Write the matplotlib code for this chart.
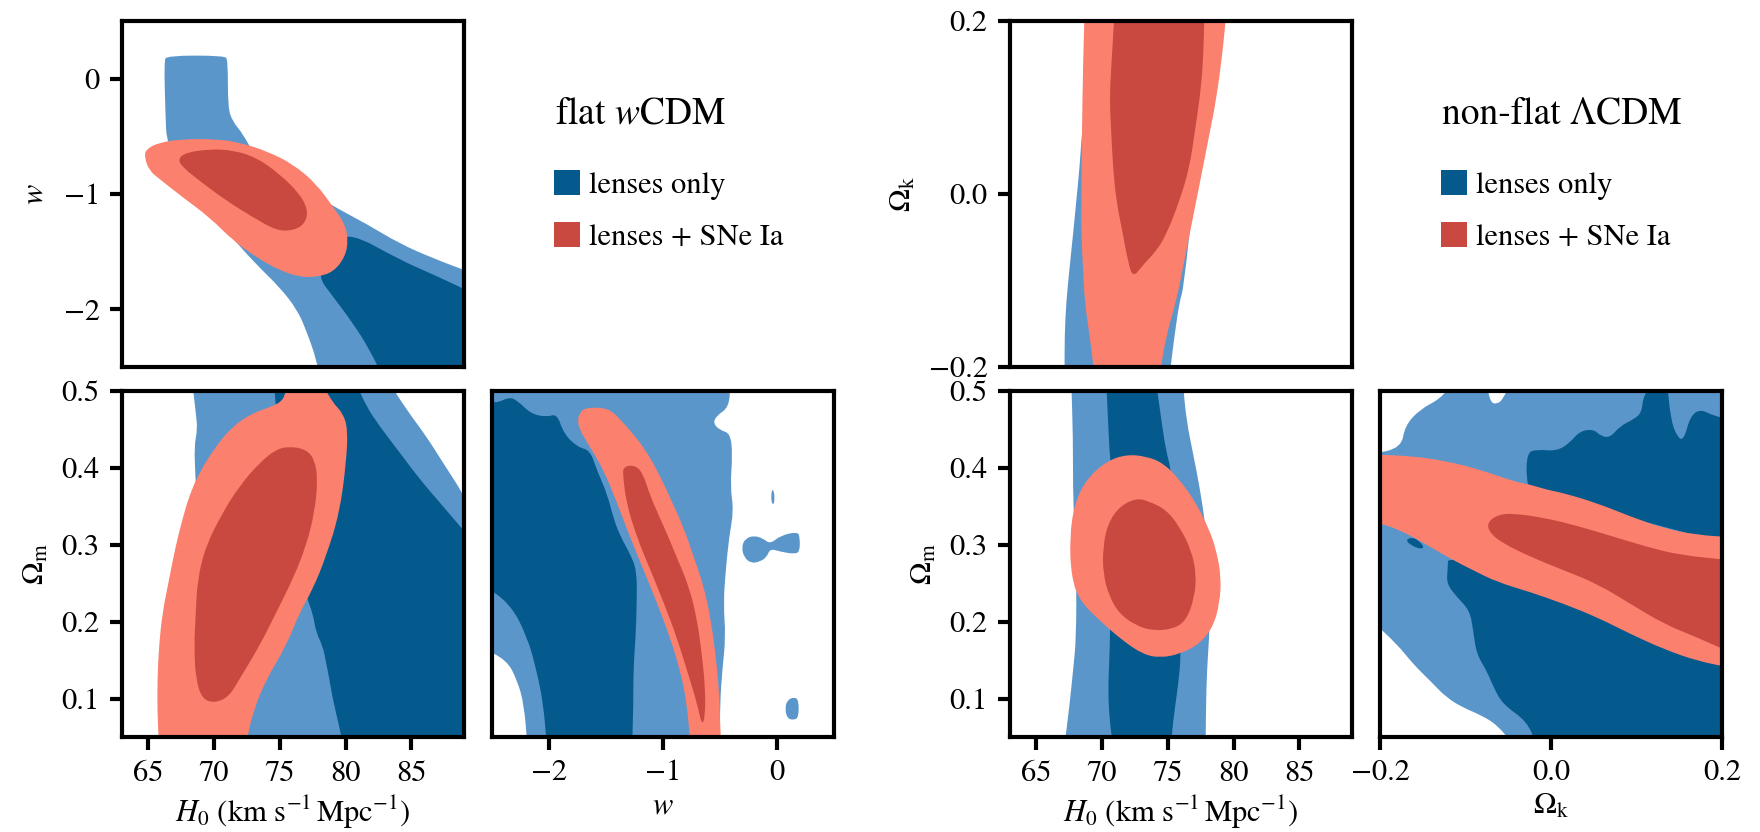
import numpy as np
import matplotlib
matplotlib.use('Agg')
import matplotlib.pyplot as plt
from matplotlib.path import Path
from matplotlib.patches import PathPatch, Rectangle

plt.rcParams['font.family'] = ['STIXGeneral', 'DejaVu Serif']
plt.rcParams['mathtext.fontset'] = 'stix'

LIGHT_BLUE = '#5b96cb'
DARK_BLUE = '#045a8d'
SALMON = '#fb806e'
DARK_RED = '#c9483f'

# axis ranges and ticks
h0_lim = (63, 89)
w_lim = (-2.5, 0.5)
om_lim = (0.05, 0.5)
ok_lim = (-0.2, 0.2)
h0_ticks = [65, 70, 75, 80, 85]
w_ticks = [-2, -1, 0]
om_ticks = [0.1, 0.2, 0.3, 0.4, 0.5]
ok_ticks = [-0.2, 0.0, 0.2]
ok_ticklabels = ['\u22120.2', '0.0', '0.2']

# ---- flat wCDM : contour outlines (68% / 95%) ----
# H0 vs w
wcdm_hw_lens95 = [(66.2, 0.15), (66.4, 0.2), (70.8, 0.2), (71.05, 0.16), (71.05, -0.25),
                  (71.4, -0.37), (72.2, -0.48), (73.0, -0.65), (76.0, -0.9), (79.6, -1.14),
                  (81.6, -1.26), (84.1, -1.43), (86.7, -1.56), (89.5, -1.68), (89.5, -2.6),
                  (78.0, -2.6), (77.8, -2.44), (77.0, -2.18), (76.3, -2.0), (75.0, -1.81),
                  (73.2, -1.61), (71.3, -1.37), (68.0, -0.9), (66.4, -0.57), (66.3, -0.3)]
wcdm_hw_lens68 = [(79.0, -1.45), (80.3, -1.33), (84.1, -1.57), (86.7, -1.7), (89.5, -1.85),
                  (89.5, -2.6), (82.87, -2.6), (81.85, -2.354), (80.58, -2.124),
                  (79.06, -1.893), (77.8, -1.70)]
wcdm_hw_sn95 = [(64.70, -0.68), (64.83, -0.611), (65.85, -0.553), (67.62, -0.524),
                (70.16, -0.524), (71.94, -0.553), (73.98, -0.627), (76.01, -0.741),
                (77.79, -0.914), (79.06, -1.115), (79.95, -1.259), (80.2, -1.403),
                (79.95, -1.548), (79.06, -1.677), (77.79, -1.72), (76.52, -1.72),
                (74.99, -1.663), (73.21, -1.548), (71.43, -1.403), (69.66, -1.202),
                (67.62, -1.029), (65.85, -0.87), (65.08, -0.798)]
wcdm_hw_sn68 = [(67.24, -0.697), (67.88, -0.64), (69.66, -0.611), (71.43, -0.62),
                (73.21, -0.683), (74.99, -0.827), (76.52, -1.0), (77.15, -1.144),
                (76.9, -1.259), (76.01, -1.317), (74.74, -1.317), (72.96, -1.202),
                (70.93, -1.058), (68.89, -0.885), (67.62, -0.769)]

# H0 vs Omega_m
wcdm_hm_lens95 = [(68.35, 0.51), (83.35, 0.51), (84.62, 0.476), (86.14, 0.441),
                  (87.41, 0.4065), (88.89, 0.3675), (89.5, 0.345), (89.5, 0.04),
                  (72.42, 0.04), (69.37, 0.04), (68.86, 0.255), (68.6, 0.385),
                  (68.48, 0.428), (68.74, 0.45), (68.61, 0.4715)]
wcdm_hm_lens68 = [(74.58, 0.51), (80.81, 0.51), (81.57, 0.48), (82.59, 0.454),
                  (84.11, 0.42), (85.64, 0.385), (87.41, 0.35), (88.89, 0.32),
                  (89.5, 0.31), (89.5, 0.04), (79.79, 0.04), (79.54, 0.062),
                  (79.03, 0.0987), (78.77, 0.1247), (78.52, 0.1464), (78.27, 0.168),
                  (77.76, 0.1855), (77.5, 0.2114), (77.0, 0.233), (75.47, 0.3415),
                  (74.71, 0.4715)]
wcdm_hm_sn95 = [(75.5, 0.51), (75.34, 0.489), (74.45, 0.48), (72.93, 0.4715),
                (71.4, 0.454), (70.13, 0.428), (68.86, 0.3935), (68.1, 0.363),
                (67.59, 0.333), (67.08, 0.2985), (66.58, 0.255), (66.07, 0.2114),
                (65.81, 0.168), (65.69, 0.1247), (65.69, 0.0814), (65.81, 0.04),
                (72.42, 0.04), (72.93, 0.0814), (73.95, 0.1247), (75.47, 0.168),
                (76.49, 0.2114), (77.5, 0.242), (78.52, 0.285), (79.54, 0.3415),
                (80.04, 0.4065), (80.17, 0.45), (79.79, 0.4715), (79.03, 0.4845),
                (78.2, 0.51)]
wcdm_hm_sn68 = [(75.72, 0.428), (77.0, 0.424), (77.63, 0.411), (77.89, 0.385),
                (77.63, 0.3415), (77.0, 0.2985), (75.98, 0.255), (74.71, 0.2114),
                (73.44, 0.168), (71.91, 0.1247), (71.15, 0.103), (70.13, 0.0944),
                (69.12, 0.0987), (68.61, 0.1247), (68.48, 0.168), (68.61, 0.2114),
                (68.74, 0.255), (69.37, 0.2985), (70.64, 0.3415), (71.91, 0.376),
                (73.44, 0.4065), (74.71, 0.424)]

# w vs Omega_m
wcdm_wm_lens95 = [(-2.6, 0.51), (-0.41, 0.51), (-0.42, 0.479), (-0.53, 0.468),
                  (-0.56, 0.458), (-0.5, 0.449), (-0.41, 0.445), (-0.39, 0.4185),
                  (-0.41, 0.375), (-0.38, 0.345), (-0.42, 0.31), (-0.45, 0.267),
                  (-0.47, 0.2235), (-0.45, 0.18), (-0.48, 0.137), (-0.5, 0.0935),
                  (-0.5, 0.04), (-2.19, 0.04), (-2.22, 0.0935), (-2.28, 0.124),
                  (-2.37, 0.15), (-2.6, 0.167)]
wcdm_wm_lens95_isle1 = [(-0.31, 0.297), (-0.28, 0.308), (-0.2, 0.312), (-0.12, 0.308),
                        (-0.06, 0.301), (0.03, 0.312), (0.18, 0.317), (0.2, 0.31),
                        (0.2, 0.291), (0.15, 0.288), (0.03, 0.291), (-0.06, 0.295),
                        (-0.09, 0.284), (-0.15, 0.278), (-0.23, 0.276), (-0.29, 0.284)]
wcdm_wm_lens95_isle2 = [(0.09, 0.098), (0.15, 0.102), (0.19, 0.098), (0.19, 0.076),
                        (0.15, 0.072), (0.09, 0.074), (0.07, 0.087)]
wcdm_wm_lens95_isle3 = [(-0.05, 0.37), (-0.03, 0.372), (-0.02, 0.36), (-0.03, 0.352),
                        (-0.05, 0.355)]
wcdm_wm_lens68 = [(-2.6, 0.49), (-2.47, 0.4835), (-2.35, 0.492), (-2.28, 0.488),
                  (-2.16, 0.4705), (-2.02, 0.466), (-1.93, 0.4705), (-1.87, 0.4445),
                  (-1.75, 0.427), (-1.64, 0.423), (-1.58, 0.397), (-1.49, 0.3665),
                  (-1.43, 0.332), (-1.37, 0.31), (-1.29, 0.2885), (-1.23, 0.267),
                  (-1.23, 0.2235), (-1.24, 0.18), (-1.26, 0.137), (-1.26, 0.0935),
                  (-1.27, 0.04), (-2.02, 0.04), (-2.05, 0.0935), (-2.11, 0.137),
                  (-2.19, 0.18), (-2.34, 0.2235), (-2.6, 0.25)]
wcdm_wm_sn95 = [(-1.73, 0.4705), (-1.7, 0.477), (-1.58, 0.479), (-1.46, 0.4757),
                (-1.37, 0.462), (-1.29, 0.449), (-1.17, 0.427), (-1.05, 0.397),
                (-0.94, 0.362), (-0.82, 0.323), (-0.73, 0.284), (-0.64, 0.245),
                (-0.58, 0.202), (-0.54, 0.1585), (-0.51, 0.115), (-0.5, 0.072),
                (-0.49, 0.04), (-0.76, 0.04), (-0.79, 0.0935), (-0.85, 0.137),
                (-0.94, 0.18), (-1.05, 0.2235), (-1.17, 0.267), (-1.29, 0.31),
                (-1.4, 0.3535), (-1.52, 0.397), (-1.64, 0.427), (-1.73, 0.449),
                (-1.75, 0.462)]
wcdm_wm_sn68 = [(-1.35, 0.401), (-1.26, 0.404), (-1.18, 0.395), (-1.11, 0.362),
                (-0.99, 0.323), (-0.88, 0.284), (-0.77, 0.245), (-0.7, 0.202),
                (-0.66, 0.1585), (-0.63, 0.115), (-0.63, 0.076), (-0.66, 0.065),
                (-0.7, 0.0935), (-0.79, 0.137), (-0.88, 0.18), (-0.99, 0.2235),
                (-1.11, 0.267), (-1.23, 0.31), (-1.32, 0.3535), (-1.35, 0.388)]

# ---- non-flat LCDM ----
# H0 vs Omega_k
lcdm_hk_lens95 = [(69.31, 0.21), (68.8, 0.109), (68.5, 0.078), (68.29, 0.031),
                  (68.04, -0.008), (67.79, -0.047), (67.53, -0.085), (67.28, -0.124),
                  (67.15, -0.163), (67.15, -0.21), (75.13, -0.21), (75.51, -0.163),
                  (75.89, -0.124), (76.2, -0.109), (76.9, -0.008), (77.92, 0.109),
                  (78.43, 0.21)]
lcdm_hk_sn95 = [(68.67, 0.21), (68.55, 0.148), (68.47, 0.07), (68.42, -0.008),
                (68.42, -0.047), (68.55, -0.085), (68.67, -0.124), (69.05, -0.163),
                (69.43, -0.21), (74.37, -0.21), (74.88, -0.163), (75.64, -0.124),
                (76.15, -0.085), (76.65, -0.047), (77.16, -0.008), (77.67, 0.031),
                (78.17, 0.07), (78.68, 0.109), (79.19, 0.167), (79.44, 0.21)]
lcdm_hk_sn68 = [(70.95, 0.21), (70.7, 0.148), (70.57, 0.109), (70.7, 0.07),
                (70.83, 0.031), (71.08, -0.008), (71.59, -0.047), (71.97, -0.078),
                (72.35, -0.097), (73.1, -0.082), (74.12, -0.066), (74.88, -0.047),
                (75.89, -0.008), (76.65, 0.031), (77.03, 0.07), (77.41, 0.109),
                (77.67, 0.148), (77.79, 0.21)]

# H0 vs Omega_m
lcdm_hm_lens95 = [(67.66, 0.51), (76.15, 0.51), (76.4, 0.463), (76.9, 0.42),
                  (77.41, 0.376), (77.92, 0.319), (78.17, 0.223), (78.17, 0.188),
                  (78.05, 0.1577), (77.92, 0.114), (77.87, 0.04), (67.15, 0.04),
                  (67.53, 0.092), (67.79, 0.1358), (68.04, 0.1795), (68.04, 0.267),
                  (67.79, 0.354), (67.79, 0.4415)]
lcdm_hm_lens68 = [(70.32, 0.51), (74.12, 0.51), (74.5, 0.463), (74.88, 0.42),
                  (75.26, 0.398), (75.89, 0.267), (76.02, 0.1577), (75.76, 0.114),
                  (75.39, 0.0703), (75.26, 0.04), (70.83, 0.04), (70.57, 0.0703),
                  (70.45, 0.114), (70.57, 0.153), (70.7, 0.267), (70.7, 0.398),
                  (70.57, 0.42), (70.45, 0.463)]
lcdm_hm_sn95 = [(71.84, 0.4175), (73.36, 0.415), (74.63, 0.4065), (75.89, 0.385),
                (77.16, 0.354), (78.17, 0.319), (78.68, 0.293), (79.06, 0.258),
                (78.93, 0.223), (78.43, 0.193), (77.41, 0.171), (75.89, 0.1577),
                (74.37, 0.153), (73.1, 0.1577), (71.59, 0.175), (69.81, 0.2014),
                (68.29, 0.2275), (67.66, 0.258), (67.53, 0.31), (67.91, 0.354),
                (68.8, 0.385), (70.32, 0.4085)]
lcdm_hm_sn68 = [(72.6, 0.3607), (73.61, 0.3563), (74.88, 0.3454), (75.89, 0.3236),
                (76.78, 0.293), (77.16, 0.2624), (77.03, 0.2319), (76.4, 0.2014),
                (75.39, 0.1904), (73.87, 0.1882), (72.6, 0.1948), (71.33, 0.21),
                (70.57, 0.2319), (70.07, 0.2624), (70.07, 0.2974), (70.45, 0.328),
                (71.33, 0.3498)]

# Omega_k vs Omega_m
lcdm_km_lens95 = [(-0.21, 0.4175), (-0.175, 0.4262), (-0.171, 0.4546), (-0.153, 0.4764),
                  (-0.13, 0.4895), (-0.115, 0.51), (-0.075, 0.51), (-0.071, 0.485),
                  (-0.063, 0.483), (-0.056, 0.4895), (-0.048, 0.51), (0.21, 0.51),
                  (0.21, 0.04), (-0.044, 0.04), (-0.063, 0.0659), (-0.083, 0.079),
                  (-0.102, 0.0878), (-0.122, 0.1009), (-0.141, 0.1227), (-0.161, 0.1445),
                  (-0.18, 0.1707), (-0.21, 0.2014)]
lcdm_km_lens68_top = [(-0.028, 0.4197), (-0.017, 0.424), (0.007, 0.4218), (0.022, 0.4328),
                      (0.034, 0.448), (0.05, 0.4502), (0.058, 0.4415), (0.069, 0.4393),
                      (0.081, 0.4546), (0.097, 0.4633), (0.106, 0.472), (0.108, 0.494),
                      (0.12, 0.51), (0.136, 0.51), (0.14, 0.4633), (0.147, 0.4415),
                      (0.155, 0.4349), (0.163, 0.4677), (0.175, 0.4764), (0.19, 0.4677),
                      (0.21, 0.4633), (0.21, 0.3), (-0.024, 0.37), (-0.029, 0.385)]
lcdm_km_lens68_low = [(-0.12, 0.29), (0.21, 0.18), (0.21, 0.04), (-0.017, 0.04),
                      (-0.028, 0.0703), (-0.056, 0.0921), (-0.067, 0.114), (-0.075, 0.1358),
                      (-0.087, 0.1576), (-0.091, 0.1882), (-0.095, 0.2144), (-0.11, 0.2319),
                      (-0.122, 0.2493), (-0.121, 0.2668)]
lcdm_km_lens68_bit = [(-0.17, 0.307), (-0.16, 0.31), (-0.148, 0.298), (-0.152, 0.294),
                      (-0.165, 0.3)]
lcdm_km_sn95 = [(-0.21, 0.4175), (-0.161, 0.4153), (-0.122, 0.4087), (-0.083, 0.3978),
                (-0.044, 0.3825), (-0.024, 0.3782), (-0.005, 0.3716), (0.015, 0.3672),
                (0.054, 0.3541), (0.093, 0.3367), (0.132, 0.3214), (0.171, 0.3127),
                (0.21, 0.31), (0.21, 0.1402), (0.171, 0.1489), (0.132, 0.1642),
                (0.093, 0.1839), (0.054, 0.2057), (0.015, 0.2232), (-0.024, 0.2384),
                (-0.063, 0.2515), (-0.091, 0.2668), (-0.118, 0.2821), (-0.141, 0.2974),
                (-0.18, 0.3214), (-0.21, 0.3301)]
lcdm_km_sn68 = [(-0.075, 0.328), (-0.063, 0.3389), (-0.044, 0.341), (-0.005, 0.3345),
                (0.034, 0.3236), (0.073, 0.3105), (0.112, 0.2974), (0.151, 0.2865),
                (0.21, 0.28), (0.21, 0.16), (0.171, 0.1795), (0.132, 0.197),
                (0.093, 0.2232), (0.054, 0.2493), (0.015, 0.2668), (-0.024, 0.2843),
                (-0.056, 0.3017), (-0.071, 0.3148)]


def region(ax, pts, color):
    # quadratic bezier through the outline; corners outside the axes stay sharp
    (x0, x1), (y0, y1) = ax.get_xlim(), ax.get_ylim()
    P = [np.array(p, float) for p in pts]
    n = len(P)
    sharp = [not (x0 < p[0] < x1 and y0 < p[1] < y1) for p in P]
    verts, codes = [], []
    for i in range(n):
        p, prv, nxt = P[i], P[i - 1], P[(i + 1) % n]
        if sharp[i]:
            verts.append(p)
            codes.append(Path.LINETO)
        else:
            verts += [(prv + p) / 2, p, (p + nxt) / 2]
            codes += [Path.LINETO, Path.CURVE3, Path.CURVE3]
    codes[0] = Path.MOVETO
    verts.append(verts[0])
    codes.append(Path.CLOSEPOLY)
    ax.add_patch(PathPatch(Path(verts, codes), facecolor=color, edgecolor='none'))


def style(ax, xlim, ylim, xticks=None, yticks=None, xticklabels=None, yticklabels=None):
    ax.set_xlim(xlim)
    ax.set_ylim(ylim)
    for s in ax.spines.values():
        s.set_linewidth(3)
    ax.tick_params(direction='out', length=9, width=3, labelsize=22, pad=7)
    ax.set_xticks(xticks if xticks is not None else [])
    ax.set_yticks(yticks if yticks is not None else [])
    if xticklabels is not None:
        ax.set_xticklabels(xticklabels)
    if yticklabels is not None:
        ax.set_yticklabels(yticklabels)


fig = plt.figure(figsize=(17.6, 8.32), dpi=100)
W, H = 342 / 1760, 346 / 832
top_y, bot_y = 1 - 367 / 832, 1 - 737 / 832

axA = fig.add_axes([122 / 1760, top_y, W, H])
axB = fig.add_axes([122 / 1760, bot_y, W, H])
axC = fig.add_axes([492 / 1760, bot_y, W, H])
axD = fig.add_axes([1010 / 1760, top_y, W, H])
axE = fig.add_axes([1010 / 1760, bot_y, W, H])
axF = fig.add_axes([1380 / 1760, bot_y, W, H])

style(axA, h0_lim, w_lim, yticks=w_ticks)
style(axB, h0_lim, om_lim, xticks=h0_ticks, yticks=om_ticks)
style(axC, w_lim, om_lim, xticks=w_ticks)
style(axD, h0_lim, ok_lim, yticks=ok_ticks, yticklabels=ok_ticklabels)
style(axE, h0_lim, om_lim, xticks=h0_ticks, yticks=om_ticks)
style(axF, ok_lim, om_lim, xticks=ok_ticks, xticklabels=ok_ticklabels)
axB.tick_params(axis='x', pad=8)
axE.tick_params(axis='x', pad=8)

panels = [
    (axA, [wcdm_hw_lens95], [wcdm_hw_lens68], [wcdm_hw_sn95], [wcdm_hw_sn68]),
    (axB, [wcdm_hm_lens95], [wcdm_hm_lens68], [wcdm_hm_sn95], [wcdm_hm_sn68]),
    (axC, [wcdm_wm_lens95, wcdm_wm_lens95_isle1, wcdm_wm_lens95_isle2, wcdm_wm_lens95_isle3],
     [wcdm_wm_lens68], [wcdm_wm_sn95], [wcdm_wm_sn68]),
    (axD, [lcdm_hk_lens95], [], [lcdm_hk_sn95], [lcdm_hk_sn68]),
    (axE, [lcdm_hm_lens95], [lcdm_hm_lens68], [lcdm_hm_sn95], [lcdm_hm_sn68]),
    (axF, [lcdm_km_lens95], [lcdm_km_lens68_top, lcdm_km_lens68_low, lcdm_km_lens68_bit],
     [lcdm_km_sn95], [lcdm_km_sn68]),
]
for ax, l95, l68, s95, s68 in panels:
    for group, col in ((l95, LIGHT_BLUE), (l68, DARK_BLUE), (s95, SALMON), (s68, DARK_RED)):
        for pts in group:
            region(ax, pts, col)

h0_label = r'$H_0$ (km s$^{-1}\,$Mpc$^{-1}$)'
axB.set_xlabel(h0_label, fontsize=22, labelpad=4)
axE.set_xlabel(h0_label, fontsize=22, labelpad=4)
axC.set_xlabel(r'$w$', fontsize=22, labelpad=4)
axF.set_xlabel(r'$\Omega_\mathrm{k}$', fontsize=22, labelpad=4)
axA.set_ylabel(r'$w$', fontsize=22, labelpad=10)
axB.set_ylabel(r'$\Omega_\mathrm{m}$', fontsize=22, labelpad=8)
axD.set_ylabel(r'$\Omega_\mathrm{k}$', fontsize=22, labelpad=8)
axE.set_ylabel(r'$\Omega_\mathrm{m}$', fontsize=22, labelpad=8)

# titles and legends
for x0, title in ((555, r'flat $w$CDM'), (1442, 'non-flat \u039bCDM')):
    fig.text(x0 / 1760, 1 - 124 / 832, title, fontsize=27, va='baseline')
    for yb, col, lab in ((195, DARK_BLUE, 'lenses only'), (247, DARK_RED, 'lenses + SNe Ia')):
        fig.patches.append(Rectangle(((x0 - 1) / 1760, 1 - yb / 832), 26 / 1760, 25 / 832,
                                     transform=fig.transFigure, facecolor=col,
                                     edgecolor='none'))
        fig.text((x0 + 34) / 1760, 1 - (yb - 2) / 832, lab, fontsize=22, va='baseline')

fig.savefig('out.png', dpi=100)
